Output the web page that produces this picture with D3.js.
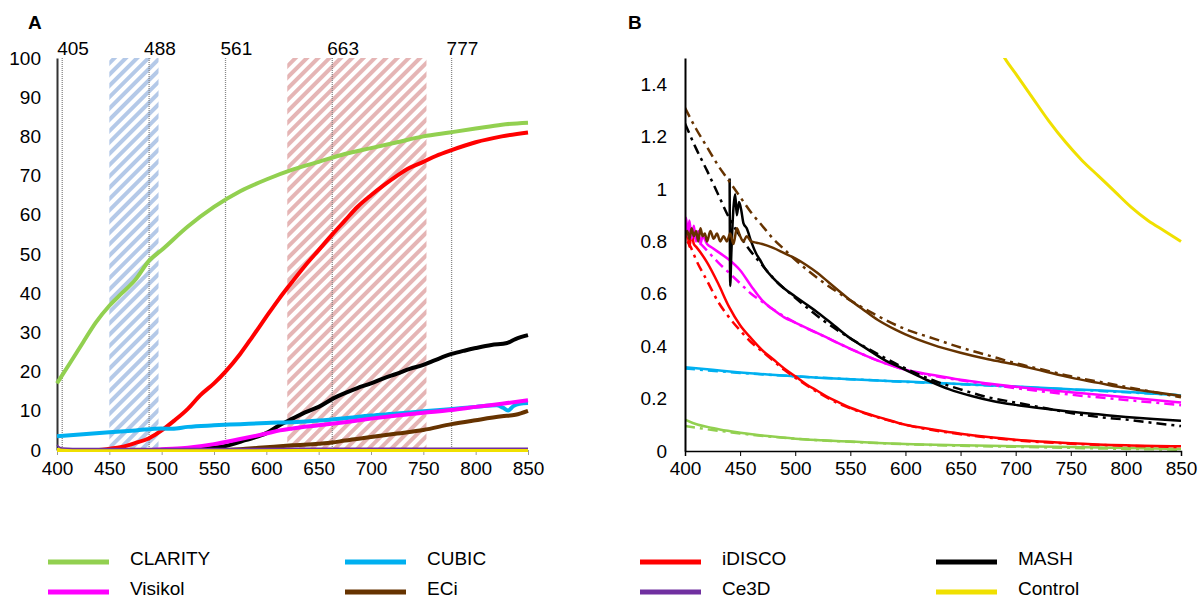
<!DOCTYPE html>
<html>
<head>
<meta charset="utf-8">
<script src="https://cdn.jsdelivr.net/npm/d3@7"></script>
<style>
  body { margin: 0; background: #fff; }
  svg { font-family: Arial, "Liberation Sans", sans-serif; }
</style>
</head>
<body>
<div id="chart"></div>
<script>
// ---- data: panel A (transmittance %, by wavelength nm) ----
const xTicks = [400, 450, 500, 550, 600, 650, 700, 750, 800, 850];
const yTicksA = [0, 10, 20, 30, 40, 50, 60, 70, 80, 90, 100];
const yTicksB = [0, 0.2, 0.4, 0.6, 0.8, 1, 1.2, 1.4];
const laserLines = [405, 488, 561, 663, 777];
const blueBand = [450, 497];
const redBand = [620, 753];

const clarityA = [[400,17],[412,22],[425,27.5],[437,32.5],[450,36.8],[462,40],[475,43.5],[488,48.3],[500,51],[525,57],[550,62],[575,66],[600,69],[625,71.5],[650,73.5],[675,75.5],[700,77],[725,78.5],[750,80],[775,81],[800,82],[825,83],[850,83.5]];
const idiscoA = [[400,0],[440,0],[450,0.3],[462,0.8],[475,1.8],[488,3],[500,5],[512,7.5],[525,10.5],[537,14],[550,17],[561,20],[575,24.5],[587,29],[600,34],[612,38.5],[625,43],[637,47],[650,51],[663,55],[675,58.5],[687,62],[700,65],[712,67.5],[725,70],[737,72],[750,73.5],[762,75],[777,76.5],[800,78.5],[825,80],[850,81]];
const mashA = [[400,0],[520,0],[540,0.3],[561,1],[580,2.5],[600,4.3],[613,6.4],[625,8],[637,9.6],[650,11],[665,13.3],[675,14.5],[687,15.8],[700,17],[712,18.3],[725,19.5],[737,20.7],[750,21.7],[762,23],[777,24.5],[790,25.4],[800,26],[815,26.8],[830,27.3],[838,28.3],[850,29.3]];
const cubicA = [[400,3.5],[425,4],[450,4.5],[475,5],[500,5.5],[510,5.4],[525,5.9],[550,6.3],[575,6.6],[600,6.9],[625,7.1],[650,7.5],[675,8.1],[700,8.8],[725,9.3],[750,9.9],[775,10.4],[800,11],[820,11.4],[826,10.8],[831,10.1],[836,11.2],[842,11.8],[850,12]];
const visikolA = [[400,0],[490,0],[500,0.2],[525,0.6],[550,1.5],[575,2.8],[600,4.2],[613,5],[625,5.5],[650,6.3],[675,7.1],[700,8],[725,8.8],[750,9.5],[777,10.2],[800,11],[825,11.8],[850,12.7]];
const eciA = [[400,0],[560,0],[580,0.3],[600,0.7],[625,1.2],[650,1.6],[663,1.9],[675,2.4],[700,3.3],[725,4.2],[750,5.1],[777,6.6],[800,7.6],[825,8.6],[838,9],[850,10]];
const ce3dA = [[400,1.3],[402,0.8],[405,0.5],[415,0.4],[850,0.45]];
const controlA = [[400,0],[850,0]];

// ---- data: panel B (attenuation; solid = measured, dash-dot = fit) ----
const clarityB = [[400,0.12],[412,0.1],[425,0.088],[437,0.078],[450,0.07],[475,0.057],[500,0.047],[525,0.041],[550,0.036],[575,0.031],[600,0.027],[650,0.022],[700,0.018],[750,0.015],[800,0.011],[850,0.008]];
const clarityBFit = [[400,0.095],[412,0.088],[425,0.08],[437,0.074],[450,0.067],[475,0.056],[500,0.047],[550,0.035],[600,0.026],[650,0.02],[700,0.016],[750,0.012],[800,0.008],[850,0.005]];
const cubicB = [[400,0.32],[425,0.31],[450,0.3],[475,0.292],[500,0.285],[525,0.279],[550,0.274],[575,0.269],[600,0.265],[650,0.256],[700,0.246],[750,0.236],[800,0.226],[850,0.212]];
const cubicBFit = [[400,0.315],[450,0.298],[500,0.285],[550,0.274],[600,0.264],[650,0.255],[700,0.245],[750,0.235],[800,0.224],[850,0.213]];
const idiscoB = [[400,0.8],[402,0.84],[404,0.78],[406,0.83],[408,0.79],[410,0.78],[420,0.72],[430,0.64],[440,0.55],[450,0.48],[460,0.43],[470,0.385],[480,0.35],[490,0.315],[500,0.285],[510,0.255],[520,0.23],[530,0.205],[540,0.185],[550,0.165],[560,0.15],[580,0.124],[600,0.1],[625,0.082],[650,0.066],[675,0.053],[700,0.043],[750,0.03],[800,0.022],[850,0.018]];
const idiscoBFit = [[402,0.8],[405,0.78],[410,0.73],[420,0.65],[430,0.57],[440,0.51],[450,0.46],[460,0.415],[470,0.38],[480,0.345],[490,0.31],[500,0.28],[520,0.225],[540,0.18],[560,0.148],[580,0.122],[600,0.1],[650,0.064],[700,0.041],[750,0.028],[800,0.02],[850,0.015]];
const mashB = [[440.5,1.04],[441,0.63],[442,0.75],[444,0.93],[445.5,0.98],[447,0.9],[449,0.95],[451,0.92],[453,0.87],[456,0.85],[460,0.8],[465,0.75],[468,0.73],[472,0.7],[480,0.66],[490,0.62],[500,0.59],[510,0.56],[520,0.53],[535,0.48],[550,0.43],[565,0.39],[580,0.35],[600,0.31],[620,0.27],[640,0.235],[660,0.21],[680,0.19],[700,0.176],[725,0.162],[750,0.15],[775,0.14],[800,0.13],[825,0.122],[850,0.115]];
const mashBFit = [[400,1.25],[410,1.155],[420,1.07],[430,0.98],[440,0.89],[450,0.82],[460,0.76],[470,0.71],[480,0.66],[500,0.585],[525,0.5],[550,0.43],[575,0.37],[600,0.315],[625,0.27],[650,0.235],[675,0.205],[700,0.185],[725,0.165],[750,0.145],[775,0.13],[800,0.12],[825,0.107],[850,0.095]];
const visikolB = [[400,0.84],[401,0.89],[402.5,0.82],[404,0.88],[406,0.81],[408,0.86],[410,0.8],[412,0.84],[414,0.79],[416,0.82],[420,0.79],[425,0.775],[430,0.76],[440,0.73],[450,0.69],[460,0.63],[470,0.575],[480,0.54],[490,0.51],[500,0.49],[525,0.44],[550,0.39],[575,0.345],[600,0.31],[625,0.29],[650,0.272],[675,0.258],[700,0.245],[750,0.224],[800,0.205],[850,0.185]];
const visikolBFit = [[400,0.86],[410,0.81],[420,0.765],[430,0.72],[440,0.68],[450,0.64],[460,0.6],[470,0.57],[480,0.54],[500,0.49],[525,0.44],[550,0.39],[575,0.345],[600,0.31],[650,0.27],[700,0.24],[750,0.215],[800,0.195],[850,0.175]];
const eciB = [[400,0.82],[402,0.84],[404,0.81],[406,0.85],[408,0.82],[410,0.84],[412,0.8],[414,0.85],[416,0.82],[418,0.83],[420,0.8],[423,0.84],[426,0.81],[429,0.83],[432,0.8],[435,0.82],[438,0.8],[441,0.83],[444,0.79],[447,0.85],[450,0.82],[453,0.8],[456,0.82],[460,0.8],[465,0.795],[470,0.79],[480,0.775],[490,0.755],[500,0.735],[510,0.71],[520,0.68],[530,0.645],[540,0.61],[550,0.575],[560,0.545],[575,0.5],[590,0.465],[600,0.445],[625,0.405],[650,0.375],[675,0.35],[700,0.33],[725,0.305],[750,0.28],[775,0.26],[800,0.24],[825,0.225],[850,0.21]];
const eciBFit = [[400,1.31],[410,1.23],[420,1.16],[430,1.09],[440,1.03],[450,0.97],[460,0.91],[470,0.86],[480,0.81],[490,0.77],[500,0.73],[525,0.645],[550,0.575],[575,0.515],[600,0.465],[625,0.43],[650,0.395],[675,0.365],[700,0.335],[725,0.31],[750,0.285],[775,0.265],[800,0.245],[825,0.225],[850,0.205]];
const controlB = [[680,1.58],[690,1.5],[700,1.44],[715,1.35],[730,1.26],[745,1.18],[760,1.11],[775,1.05],[790,0.99],[805,0.93],[820,0.88],[835,0.84],[850,0.8]];

const legendNames = ["CLARITY", "CUBIC", "iDISCO", "MASH", "Visikol", "ECi", "Ce3D", "Control"];
const legendColors = ["#92d050", "#00b0f0", "#ff0000", "#000000", "#ff00ff", "#663300", "#7030a0", "#f0e000"];

// ---- svg ----
const width = 1199, height = 600;
const svg = d3.select('#chart').append('svg')
    .attr('width', width)
    .attr('height', height);

const defs = svg.append('defs');
function hatch(id, color) {
    const p = defs.append('pattern')
        .attr('id', id)
        .attr('patternUnits', 'userSpaceOnUse')
        .attr('width', 8).attr('height', 8)
        .attr('patternTransform', 'rotate(45)');
    p.append('rect').attr('width', 4).attr('height', 8).attr('fill', color);
}
hatch('hatchBlue', '#b4c9e8');
hatch('hatchRed', '#e5b5b5');

// ---- panel A ----
const xA = d3.scaleLinear().domain([400, 850]).range([57, 528]);
const yA = d3.scaleLinear().domain([0, 100]).range([450, 58]);
const lineA = d3.line().x(d => xA(d[0])).y(d => yA(d[1])).curve(d3.curveMonotoneX);
const gA = svg.append('g');

gA.append('text').attr('x', 28).attr('y', 29)
    .attr('font-size', 19).attr('font-weight', 'bold').text('A');

// hatched bands
gA.append('rect')
    .attr('x', xA(blueBand[0])).attr('y', yA(100))
    .attr('width', xA(blueBand[1]) - xA(blueBand[0]))
    .attr('height', yA(0) - yA(100))
    .attr('fill', 'url(#hatchBlue)');
gA.append('rect')
    .attr('x', xA(redBand[0])).attr('y', yA(100))
    .attr('width', xA(redBand[1]) - xA(redBand[0]))
    .attr('height', yA(0) - yA(100))
    .attr('fill', 'url(#hatchRed)');

// laser lines
laserLines.forEach(w => {
    gA.append('line')
        .attr('x1', xA(w)).attr('x2', xA(w))
        .attr('y1', yA(100)).attr('y2', yA(0))
        .attr('stroke', '#888').attr('stroke-width', 1.3)
        .attr('stroke-dasharray', '1,1');
    gA.append('text')
        .attr('x', xA(w) - 5).attr('y', 55)
        .attr('font-size', 19).text(w);
});

// axes
const axisA = gA.append('g').attr('transform', `translate(0,${yA(0)})`)
    .call(d3.axisBottom(xA).tickValues(xTicks).tickSize(5).tickPadding(7));
axisA.select('.domain').attr('stroke', '#999');
axisA.selectAll('.tick line').attr('stroke', '#999');
axisA.selectAll('text').attr('font-size', 19).attr('fill', '#000')
    .attr('font-family', 'Arial, "Liberation Sans", sans-serif');

gA.append('g').attr('transform', `translate(${xA(400)},0)`)
    .call(d3.axisLeft(yA).tickValues(yTicksA).tickSize(0).tickPadding(16))
    .call(g => g.select('.domain').attr('stroke', '#333').attr('stroke-width', 2))
    .call(g => g.selectAll('text').attr('font-size', 19).attr('fill', '#000')
        .attr('font-family', 'Arial, "Liberation Sans", sans-serif'));

const seriesA = [
    [clarityA, "#92d050"], [idiscoA, "#ff0000"], [mashA, "#000000"],
    [cubicA, "#00b0f0"], [visikolA, "#ff00ff"], [eciA, "#663300"],
    [controlA, "#f0e000"], [ce3dA, "#7030a0"]
];
seriesA.forEach(([data, color]) => {
    gA.append('path')
        .attr('d', lineA(data))
        .attr('fill', 'none')
        .attr('stroke', color)
        .attr('stroke-width', color === "#7030a0" ? 1.5 : 4)
        .attr('stroke-linejoin', 'round');
});

// ---- panel B ----
const xB = d3.scaleLinear().domain([400, 850]).range([685, 1181]);
const yB = d3.scaleLinear().domain([0, 1.5]).range([451, 58]);
const lineB = d3.line().x(d => xB(d[0])).y(d => yB(d[1])).curve(d3.curveMonotoneX);
const gB = svg.append('g');

gB.append('text').attr('x', 628).attr('y', 29)
    .attr('font-size', 19).attr('font-weight', 'bold').text('B');

defs.append('clipPath').attr('id', 'clipB')
    .append('rect').attr('x', xB(400)).attr('y', yB(1.5))
    .attr('width', xB(850) - xB(400) + 3).attr('height', yB(0) - yB(1.5));

const plotB = gB.append('g').attr('clip-path', 'url(#clipB)');

const seriesB = [
    [clarityB, clarityBFit, "#92d050"],
    [cubicB, cubicBFit, "#00b0f0"],
    [idiscoB, idiscoBFit, "#ff0000"],
    [visikolB, visikolBFit, "#ff00ff"],
    [mashB, mashBFit, "#000000"],
    [eciB, eciBFit, "#663300"]
];
seriesB.forEach(([solid, fit, color]) => {
    plotB.append('path')
        .attr('d', lineB(solid))
        .attr('fill', 'none').attr('stroke', color)
        .attr('stroke-width', 2.5).attr('stroke-linejoin', 'round');
    plotB.append('path')
        .attr('d', lineB(fit))
        .attr('fill', 'none').attr('stroke', color)
        .attr('stroke-width', 2.5)
        .attr('stroke-dasharray', '10,5,3,5');
});
plotB.append('path')
    .attr('d', lineB(controlB))
    .attr('fill', 'none').attr('stroke', '#f0e000')
    .attr('stroke-width', 3);

const axisB = gB.append('g').attr('transform', `translate(0,${yB(0)})`)
    .call(d3.axisBottom(xB).tickValues(xTicks).tickSize(5).tickPadding(6));
axisB.select('.domain').attr('stroke', '#000').attr('stroke-width', 1.5);
axisB.selectAll('.tick line').attr('stroke', '#000');
axisB.selectAll('text').attr('font-size', 19).attr('fill', '#000')
    .attr('font-family', 'Arial, "Liberation Sans", sans-serif');

gB.append('g').attr('transform', `translate(${xB(400)},0)`)
    .call(d3.axisLeft(yB).tickValues(yTicksB).tickSize(0).tickPadding(18).tickFormat(d3.format('~g')))
    .call(g => g.select('.domain').attr('stroke', '#000').attr('stroke-width', 2))
    .call(g => g.selectAll('text').attr('font-size', 19).attr('fill', '#000')
        .attr('font-family', 'Arial, "Liberation Sans", sans-serif'));

// ---- legend ----
const legendX = [48, 345, 640, 936];
const legendY = [562, 592];
const legend = svg.append('g');
legendNames.forEach((name, i) => {
    const col = i % 4, row = Math.floor(i / 4);
    legend.append('line')
        .attr('x1', legendX[col]).attr('x2', legendX[col] + 61)
        .attr('y1', legendY[row]).attr('y2', legendY[row])
        .attr('stroke', legendColors[i]).attr('stroke-width', 5);
    legend.append('text')
        .attr('x', legendX[col] + 82).attr('y', legendY[row] + 3)
        .attr('font-size', 19).text(name);
});
</script>
</body>
</html>
